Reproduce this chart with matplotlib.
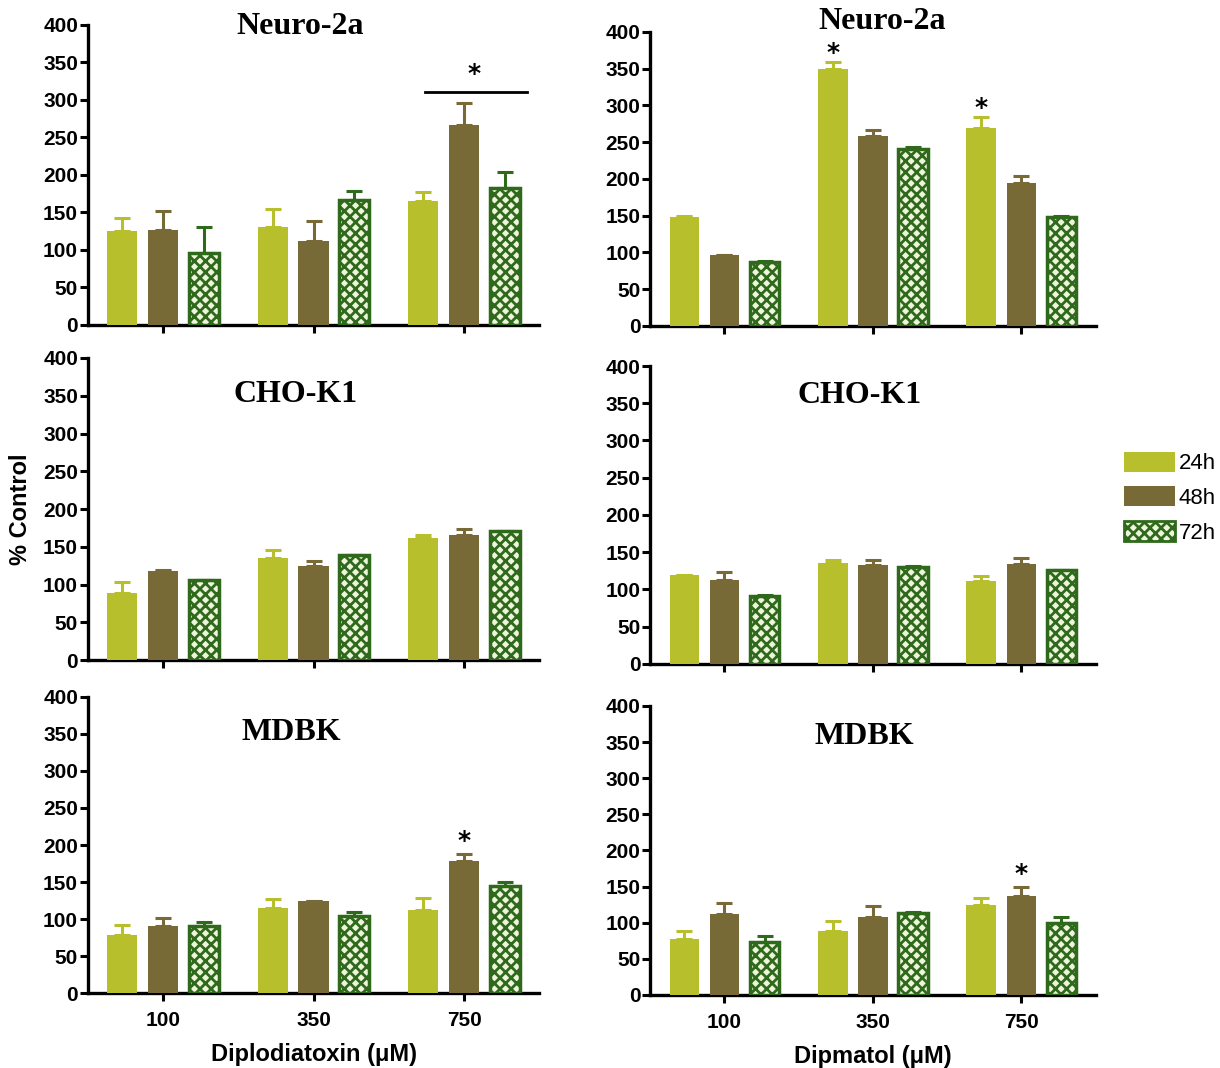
import numpy as np
import matplotlib.pyplot as plt
from matplotlib.patches import Patch

plt.rcParams['hatch.linewidth'] = 2.0

doses = ['100', '350', '750']
times = ['24h', '48h', '72h']
cells = ['Neuro-2a', 'CHO-K1', 'MDBK']
toxins = ['Diplodiatoxin (\u03bcM)', 'Dipmatol (\u03bcM)']

# means, one row per time point (24h, 48h, 72h), columns = doses
diplo_neuro_mean = [[125, 130, 165], [126, 112, 267], [96, 166, 182]]
diplo_neuro_err = [[18, 25, 12], [26, 26, 29], [35, 12, 22]]
diplo_cho_mean = [[89, 135, 161], [118, 124, 165], [106, 139, 171]]
diplo_cho_err = [[14, 11, 5], [1, 7, 9], [0, 0, 0]]
diplo_mdbk_mean = [[79, 115, 112], [90, 125, 178], [91, 104, 145]]
diplo_mdbk_err = [[13, 12, 16], [12, 0, 10], [5, 6, 5]]

dipm_neuro_mean = [[148, 349, 269], [96, 259, 195], [87, 241, 148]]
dipm_neuro_err = [[2, 10, 15], [1, 7, 9], [2, 2, 1]]
dipm_cho_mean = [[120, 135, 111], [113, 133, 134], [91, 130, 126]]
dipm_cho_err = [[0, 4, 7], [10, 7, 8], [1, 1, 0]]
dipm_mdbk_mean = [[78, 88, 124], [112, 108, 137], [73, 113, 99]]
dipm_mdbk_err = [[10, 15, 10], [15, 15, 13], [9, 2, 9]]

c24 = '#b7bf2c'
c48 = '#786a36'
c72 = '#2f6a1c'
c72_face = '#eef5dc'

panels = [
    [(diplo_neuro_mean, diplo_neuro_err), (dipm_neuro_mean, dipm_neuro_err)],
    [(diplo_cho_mean, diplo_cho_err), (dipm_cho_mean, dipm_cho_err)],
    [(diplo_mdbk_mean, diplo_mdbk_err), (dipm_mdbk_mean, dipm_mdbk_err)],
]

# axes rectangles [left, bottom, width, height]
rects = [
    [[0.072, 0.6957, 0.370, 0.2809], [0.533, 0.6948, 0.365, 0.2753]],
    [[0.072, 0.3820, 0.370, 0.2828], [0.533, 0.3783, 0.365, 0.2790]],
    [[0.072, 0.0702, 0.370, 0.2772], [0.533, 0.0684, 0.365, 0.2706]],
]
title_pos = [[(0.47, 0.995), (0.52, 1.035)], [(0.46, 0.88), (0.47, 0.90)], [(0.45, 0.88), (0.48, 0.895)]]

fig = plt.figure(figsize=(12.2, 10.68), dpi=100)
x = np.arange(len(doses))
w = 0.2
offs = [-0.27, 0, 0.27]
tick_font = {'family': 'Liberation Sans', 'weight': 'bold', 'size': 15}

axes = [[None, None] for _ in range(3)]
for r in range(3):
    for c in range(2):
        ax = fig.add_axes(rects[r][c])
        axes[r][c] = ax
        mean, err = panels[r][c]
        for k in range(3):
            m = np.array(mean[k])
            e = np.array(err[k])
            if k == 2:
                ax.bar(x + offs[k], m, w, facecolor=c72_face, edgecolor=c72,
                       hatch='xxx', linewidth=2.5, zorder=3)
                ecol = c72
            else:
                col = c24 if k == 0 else c48
                ax.bar(x + offs[k], m, w, color=col, zorder=3)
                ecol = col
            ax.errorbar(x + offs[k], m, yerr=[np.zeros_like(e), e], fmt='none',
                        ecolor=ecol, elinewidth=2.2, capsize=5.5, capthick=2.2, zorder=2)
        ax.set_xlim(-0.5, 2.5)
        ax.set_ylim(0, 400)
        ax.set_yticks(range(0, 401, 50))
        ax.set_xticks(x)
        for s in ['top', 'right']:
            ax.spines[s].set_visible(False)
        for s in ['left', 'bottom']:
            ax.spines[s].set_linewidth(2.4)
        ax.tick_params(axis='both', width=2.2, length=6, pad=1)
        for lab in ax.get_yticklabels():
            lab.set_fontproperties(tick_font)
        if r == 2:
            ax.set_xticklabels(doses)
            for lab in ax.get_xticklabels():
                lab.set_fontproperties(tick_font)
            ax.tick_params(axis='x', pad=7)
            ax.set_xlabel(toxins[c], family='Liberation Sans', weight='bold',
                          fontsize=17, labelpad=9)
        else:
            ax.set_xticklabels([])
        tx, ty = title_pos[r][c]
        ax.text(tx, ty, cells[r], transform=ax.transAxes, ha='center', va='center',
                family='Liberation Serif', weight='bold', fontsize=23)

star = dict(ha='center', va='center', fontsize=18, weight='bold', family='DejaVu Sans')

# significance marks
ax = axes[0][0]
ax.plot([1.74, 2.42], [310, 310], color='black', lw=2)
ax.text(2.07, 335, '*', **star)
ax = axes[0][1]
ax.text(1 + offs[0], 372, '*', **star)
ax.text(2 + offs[0], 296, '*', **star)
axes[2][0].text(2 + offs[1], 205, '*', **star)
axes[2][1].text(2 + offs[1], 167, '*', **star)

fig.text(0.017, 0.523, '% Control', rotation=90, ha='center', va='center',
         family='Liberation Sans', weight='bold', fontsize=17)

handles = [Patch(facecolor=c24), Patch(facecolor=c48),
           Patch(facecolor=c72_face, edgecolor=c72, hatch='xxx', linewidth=2)]
fig.legend(handles, times, loc='center left', bbox_to_anchor=(0.905, 0.534),
           frameon=False, handlelength=2.3, handleheight=1.0, handletextpad=0.15,
           labelspacing=0.55, prop={'family': 'Liberation Sans', 'size': 16})

fig.savefig('out.png', dpi=100)
